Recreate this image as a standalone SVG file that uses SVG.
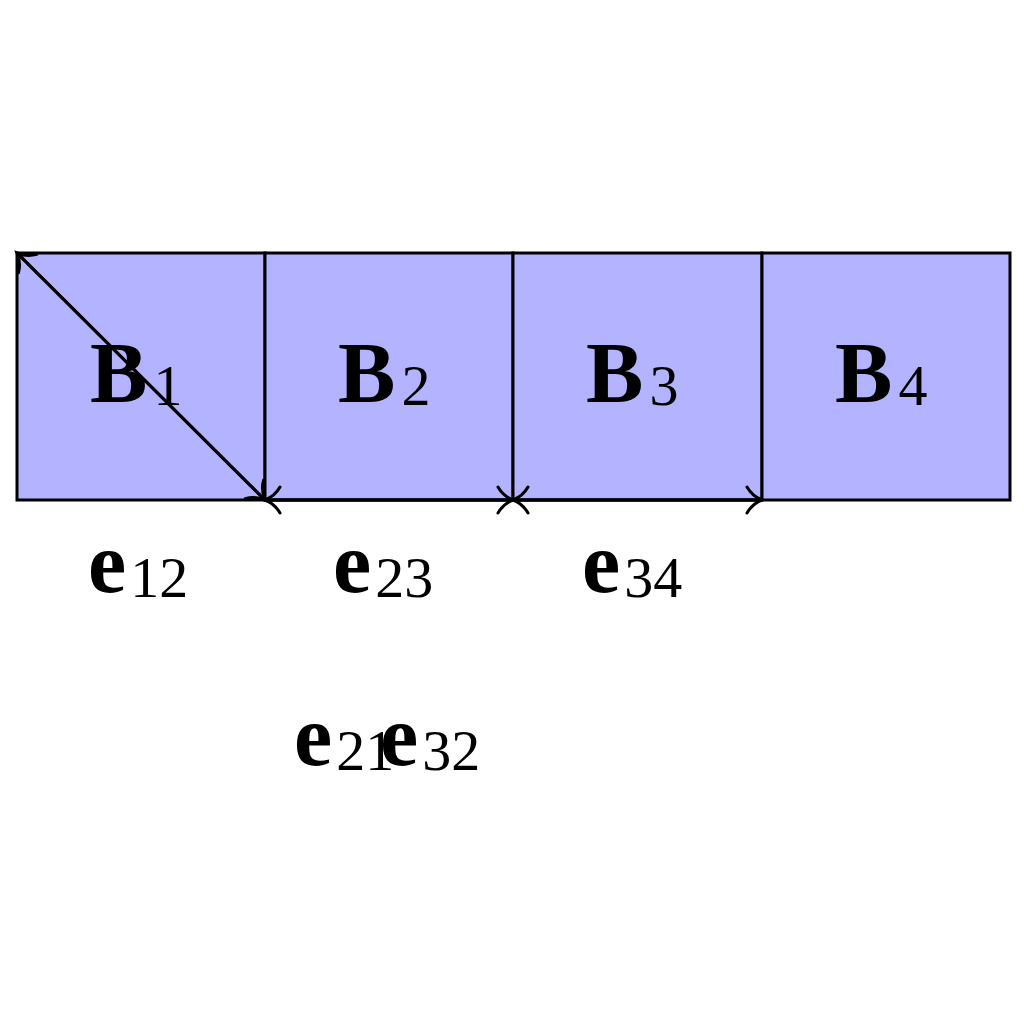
<svg xmlns="http://www.w3.org/2000/svg" width="1024" height="1024" viewBox="0 0 1024 1024">
<style>
.box{fill:#b3b3ff;stroke:#000;stroke-width:3}
.edge{fill:none;stroke:#000;stroke-width:3}
.big{font-family:"Liberation Serif","DejaVu Serif",serif;font-weight:bold;font-size:86px}
.sub{font-family:"Liberation Serif","DejaVu Serif",serif;font-weight:normal;font-size:58px}
</style>
<defs>
<marker id="arr" markerUnits="userSpaceOnUse" markerWidth="40" markerHeight="40" viewBox="-20 -20 40 40" refX="0" refY="0" orient="auto" overflow="visible">
<path d="M -15,-13 C -11,-6 -5,-2 0,0 C -5,2 -11,6 -15,13" fill="none" stroke="#000" stroke-width="3" stroke-linecap="round"/>
</marker>
</defs>
<rect width="1024" height="1024" fill="#fff"/>
<g id="B1"><rect class="box" x="17" y="253" width="248" height="247"/><text x="90" y="402"><tspan class="big">B</tspan><tspan class="sub" dx="6" dy="3">1</tspan></text></g>
<g id="B2"><rect class="box" x="265" y="253" width="248" height="247"/><text x="338" y="402"><tspan class="big">B</tspan><tspan class="sub" dx="6" dy="3">2</tspan></text></g>
<g id="B3"><rect class="box" x="513" y="253" width="249" height="247"/><text x="586" y="402"><tspan class="big">B</tspan><tspan class="sub" dx="6" dy="3">3</tspan></text></g>
<g id="B4"><rect class="box" x="762" y="253" width="248" height="247"/><text x="835" y="402"><tspan class="big">B</tspan><tspan class="sub" dx="6" dy="3">4</tspan></text></g>
<g id="connectors">
<line class="edge" x1="17" y1="253" x2="265" y2="500" marker-end="url(#arr)"/>
<line class="edge" x1="265" y1="500" x2="17" y2="253" marker-end="url(#arr)"/>
<line class="edge" x1="265" y1="500" x2="513" y2="500" marker-end="url(#arr)"/>
<line class="edge" x1="513" y1="500" x2="265" y2="500" marker-end="url(#arr)"/>
<line class="edge" x1="513" y1="500" x2="762" y2="500" marker-end="url(#arr)"/>
<line class="edge" x1="762" y1="500" x2="513" y2="500" marker-end="url(#arr)"/>
</g>
<g id="labels">
<text x="88" y="592"><tspan class="big">e</tspan><tspan class="sub" dx="4" dy="5">12</tspan></text>
<text x="333" y="592"><tspan class="big">e</tspan><tspan class="sub" dx="4" dy="5">23</tspan></text>
<text x="582" y="592"><tspan class="big">e</tspan><tspan class="sub" dx="4" dy="5">34</tspan></text>
<text x="294" y="765"><tspan class="big">e</tspan><tspan class="sub" dx="4" dy="5">21</tspan></text>
<text x="380" y="765"><tspan class="big">e</tspan><tspan class="sub" dx="4" dy="5">32</tspan></text>
</g>
</svg>
